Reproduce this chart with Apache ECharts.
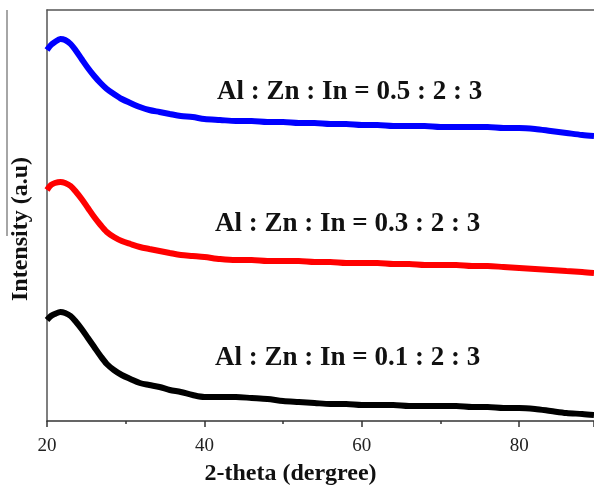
<!DOCTYPE html>
<html>
<head>
<meta charset="utf-8">
<style>
  html, body { margin: 0; padding: 0; background: #fff; }
  #chart { width: 594px; height: 490px; }
</style>
<script src="https://cdn.jsdelivr.net/npm/echarts@6/dist/echarts.min.js"></script>
</head>
<body>
<div id="chart"></div>
<script>
// 2-theta 位置（度）
var theta = [20, 20.5, 21, 21.7, 22.3, 23, 23.7, 24.4, 25.2, 26, 26.8, 27.6, 28.5, 29.5, 30.6, 31.8, 33, 34.3, 35.6, 37, 38.5, 40,
    42, 44, 46, 48, 50, 52, 54, 56, 58, 60, 62, 64, 66, 68, 70, 72, 74, 76, 78, 80, 82, 84, 86, 88, 89.5];

// 强度 (a.u) —— 图中读取的估计值
var ratio05 = [371, 376, 379, 382, 381, 377, 370, 362, 353, 345, 338, 332, 327, 322, 318, 314, 311, 309, 307, 305, 304, 302,
    301, 300, 300, 299, 299, 298, 298, 297, 297, 296, 296, 295, 295, 295, 294, 294, 294, 294, 293, 293, 292, 290, 288, 286, 285];
var ratio03 = [231, 236, 238, 239, 238, 235, 229, 222, 213, 204, 196, 189, 184, 180, 177, 174, 172, 170, 168, 166, 165, 164,
    162, 161, 161, 160, 160, 160, 159, 159, 158, 158, 158, 157, 157, 156, 156, 156, 155, 155, 154, 153, 152, 151, 150, 149, 148];
var ratio01 = [101, 105, 107, 109, 108, 105, 99, 92, 83, 74, 65, 57, 51, 46, 42, 38, 36, 34, 31, 29, 26, 24,
    24, 24, 23, 22, 20, 19, 18, 17, 17, 16, 16, 16, 15, 15, 15, 15, 14, 14, 13, 13, 12, 10, 8, 7, 6];

var labels = ['Al : Zn : In = 0.5 : 2 : 3', 'Al : Zn : In = 0.3 : 2 : 3', 'Al : Zn : In = 0.1 : 2 : 3'];
var xTicks = [20, 40, 60, 80];

function pairs(ys) {
    return theta.map(function (t, i) { return [t, ys[i]]; });
}

var myChart = echarts.init(document.getElementById('chart'));
var serif = '"Liberation Serif", "DejaVu Serif", serif';
var axisColor = '#333';

var option = {
    animation: false,
    grid: { left: 47, right: 0, top: 10, bottom: 69, outerBoundsMode: 'none', containLabel: false },
    xAxis: [{
        type: 'value',
        min: 20,
        max: 89.5,
        interval: 20,
        name: '2-theta (dergree)',
        nameLocation: 'middle',
        nameGap: 41,
        nameTextStyle: { fontFamily: serif, fontWeight: 'bold', fontSize: 24, color: '#111', padding: [0, 60, 0, 0] },
        axisLine: { lineStyle: { color: axisColor, width: 1.5 } },
        axisTick: { show: true, length: 6, lineStyle: { color: axisColor, width: 1.5 } },
        minorTick: { show: true, splitNumber: 2, length: 3, lineStyle: { color: axisColor, width: 1.5 } },
        axisLabel: {
            fontFamily: serif, fontSize: 19, color: '#222', margin: 16,
            showMaxLabel: false,
            formatter: function (v) { return xTicks.indexOf(v) >= 0 ? String(v) : ''; }
        },
        splitLine: { show: false }
    }, {
        type: 'value',
        position: 'top',
        min: 20,
        max: 89.5,
        axisLine: { show: true, lineStyle: { color: '#555', width: 1.5 } },
        axisTick: { show: false },
        axisLabel: { show: false },
        splitLine: { show: false }
    }],
    yAxis: {
        type: 'value',
        min: 0,
        max: 411,
        name: 'Intensity (a.u)',
        nameLocation: 'middle',
        nameGap: 14,
        nameTextStyle: { fontFamily: serif, fontWeight: 'bold', fontSize: 24, color: '#111', padding: [0, 27, 0, 0] },
        axisLine: { show: true, lineStyle: { color: '#555', width: 1.5 } },
        axisTick: { show: false },
        axisLabel: { show: false },
        splitLine: { show: false }
    },
    graphic: [
        { type: 'line', shape: { x1: 7, y1: 10, x2: 7, y2: 236 }, style: { stroke: '#888', lineWidth: 1.5 } },
        { type: 'text', left: 217, top: 79, style: { text: labels[0], font: 'bold 27px ' + serif, fill: '#111' } },
        { type: 'text', left: 215, top: 211, style: { text: labels[1], font: 'bold 27px ' + serif, fill: '#111' } },
        { type: 'text', left: 215, top: 345, style: { text: labels[2], font: 'bold 27px ' + serif, fill: '#111' } }
    ],
    series: [{
        name: labels[0], type: 'line', data: pairs(ratio05), showSymbol: false, smooth: 0.3,
        lineStyle: { color: '#0000ff', width: 6 }
    }, {
        name: labels[1], type: 'line', data: pairs(ratio03), showSymbol: false, smooth: 0.3,
        lineStyle: { color: '#ff0000', width: 6 }
    }, {
        name: labels[2], type: 'line', data: pairs(ratio01), showSymbol: false, smooth: 0.3,
        lineStyle: { color: '#000000', width: 6 }
    }]
};

myChart.setOption(option);
</script>
</body>
</html>
